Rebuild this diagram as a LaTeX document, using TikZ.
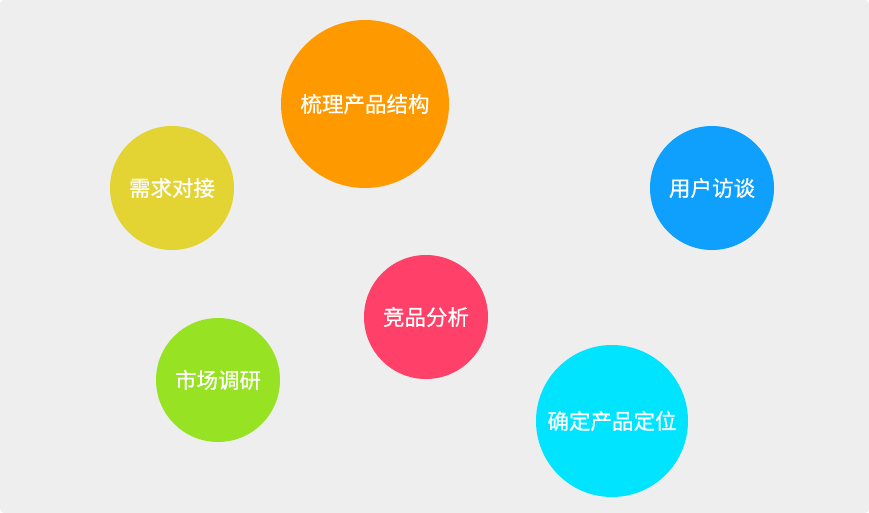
\documentclass[tikz,border=0pt]{standalone}
\usepackage{fontspec}
\newfontfamily\cjk[FakeBold=0.6]{Noto Sans CJK SC}
\definecolor{bg}{HTML}{EEEEEE}
\definecolor{corange}{HTML}{FF9900}
\definecolor{cyellow}{HTML}{E4D433}
\definecolor{cblue}{HTML}{0EA0FC}
\definecolor{cpink}{HTML}{FF4068}
\definecolor{cgreen}{HTML}{98E224}
\definecolor{ccyan}{HTML}{00E4FF}
\tikzset{
  bubble/.style={circle, inner sep=0pt, text=white, font={\cjk\fontsize{21.5pt}{24pt}\selectfont}},
}
\begin{document}
\begin{tikzpicture}[x=1pt,y=-1pt]
\useasboundingbox (0,0) rectangle (869,513);
\fill[bg, rounded corners=4pt] (0,0) rectangle (869,513);
\node[bubble, fill=corange, minimum size=168pt] (a) at (365,104) {梳理产品结构};
\node[bubble, fill=cyellow, minimum size=124pt] (b) at (172,188) {需求对接};
\node[bubble, fill=cblue, minimum size=124pt] (c) at (712,188) {用户访谈};
\node[bubble, fill=cpink, minimum size=124pt] (d) at (426,317) {竞品分析};
\node[bubble, fill=cgreen, minimum size=124pt] (e) at (218,380) {市场调研};
\node[bubble, fill=ccyan, minimum size=152pt] (f) at (612,421) {确定产品定位};
\end{tikzpicture}
\end{document}
